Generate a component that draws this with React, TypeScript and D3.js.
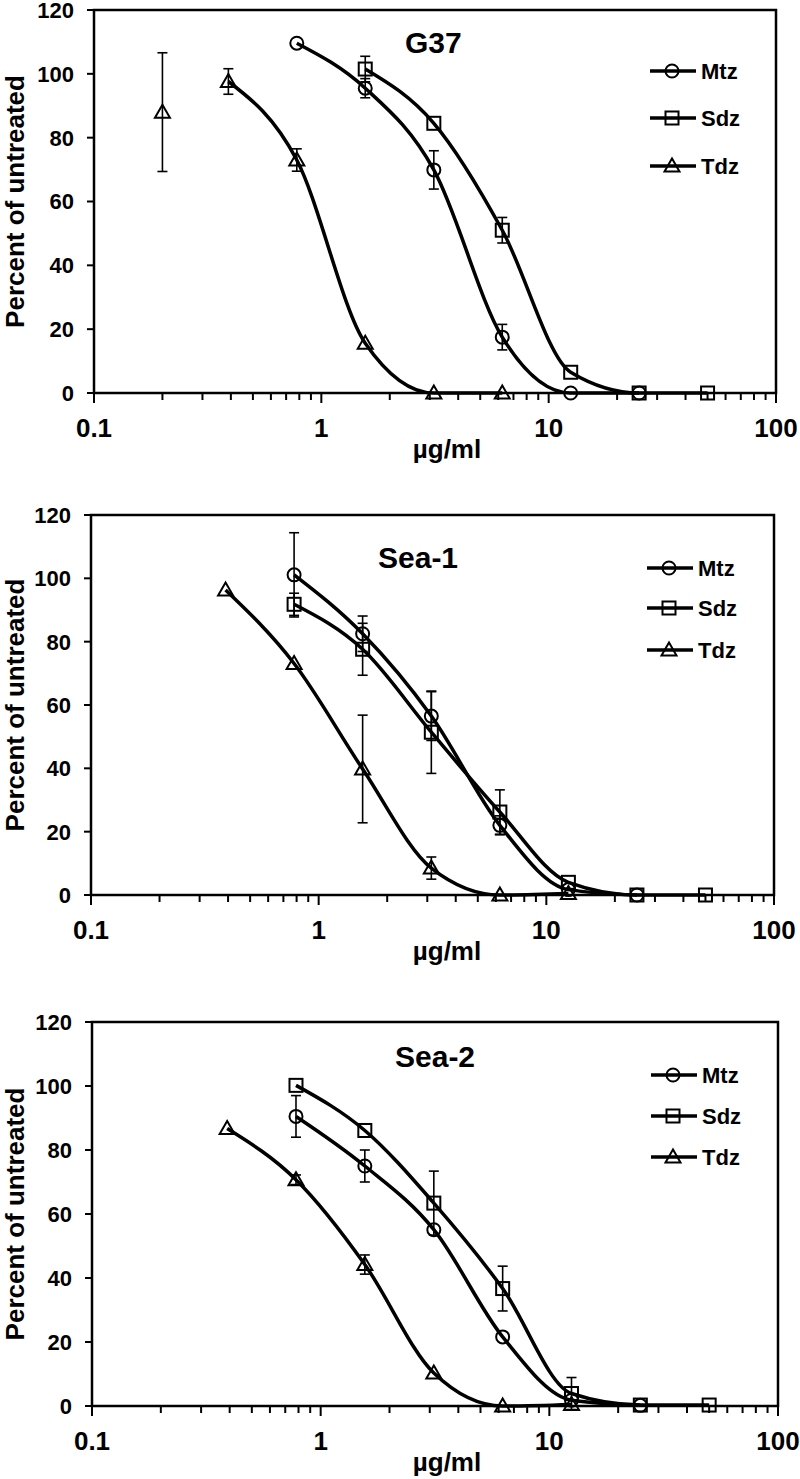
import React from 'react';
import * as d3 from 'd3';

// doses tested (µg/ml)
const doses = [0.2, 0.39, 0.78, 1.56, 3.125, 6.25, 12.5, 25, 50];
const drugs = ['Mtz', 'Sdz', 'Tdz'];
const xTickValues = [0.1, 1, 10, 100];
const xTickLabels = ['0.1', '1', '10', '100'];
const yTickValues = [0, 20, 40, 60, 80, 100, 120];
const panelTitles = ['G37', 'Sea-1', 'Sea-2'];

// G37
const g37Mtz = [null, null, 109.6, 95.5, 69.9, 17.5, 0, 0, null];
const g37MtzErr = [0, 0, 0, 3, 6, 4, 0, 0, 0];
const g37Sdz = [null, null, null, 101.5, 84.5, 51, 6.5, 0, 0];
const g37SdzErr = [0, 0, 0, 4, 0, 4, 0, 0, 0];
const g37Tdz = [88, 97.6, 73, 15.6, 0, 0, null, null, null];
const g37TdzErr = [18.6, 4, 3.5, 0, 0, 0, 0, 0, 0];
const g37CurveFrom = [0.78, 1.56, 0.39];

// Sea-1
const sea1Mtz = [null, null, 101.1, 82.5, 56.5, 22, 1.7, 0, null];
const sea1MtzErr = [0, 0, 13.3, 5.6, 7.7, 3, 0, 0, 0];
const sea1Sdz = [null, null, 91.8, 77.6, 51.4, 26.2, 4, 0, 0];
const sea1SdzErr = [0, 0, 3.5, 8.2, 13, 7, 0, 0, 0];
const sea1Tdz = [null, 96.3, 73.1, 39.8, 8.5, 0, 0.5, null, null];
const sea1TdzErr = [0, 0, 0, 17, 3.5, 0, 0, 0, 0];
const sea1CurveFrom = [0.78, 0.78, 0.39];

// Sea-2
const sea2Mtz = [null, null, 90.5, 75, 55.1, 21.6, 1.8, 0.2, null];
const sea2MtzErr = [0, 0, 6.5, 5, 0, 0, 0, 0, 0];
const sea2Sdz = [null, null, 100.2, 86.1, 63.4, 36.7, 3.9, 0.3, 0.3];
const sea2SdzErr = [0, 0, 0, 0, 10, 7, 5, 0, 0];
const sea2Tdz = [null, 86.7, 70.7, 44.2, 10.3, 0, 0.5, null, null];
const sea2TdzErr = [0, 0, 1.5, 3, 0, 0, 0, 0, 0];
const sea2CurveFrom = [0.78, 0.78, 0.39];

const panelValues = [
  [g37Mtz, g37Sdz, g37Tdz],
  [sea1Mtz, sea1Sdz, sea1Tdz],
  [sea2Mtz, sea2Sdz, sea2Tdz],
];
const panelErrors = [
  [g37MtzErr, g37SdzErr, g37TdzErr],
  [sea1MtzErr, sea1SdzErr, sea1TdzErr],
  [sea2MtzErr, sea2SdzErr, sea2TdzErr],
];
const panelCurveFrom = [g37CurveFrom, sea1CurveFrom, sea2CurveFrom];

// page layout of each panel (pixels)
const layouts = [
  { left: 94, right: 776, top: 10, bottom: 393, titleX: 405, titleY: 53, legX: 650, legRows: [71, 118, 166] },
  { left: 91, right: 774, top: 515, bottom: 895, titleX: 378, titleY: 568, legX: 647, legRows: [568, 608, 650] },
  { left: 92, right: 778, top: 1022, bottom: 1406, titleX: 395, titleY: 1067, legX: 651, legRows: [1075, 1116, 1157] },
];

const FONT = '"Liberation Sans", Arial, Helvetica, sans-serif';
const INK = '#000';

const Marker: React.FC<{ kind: number; x: number; y: number }> = ({ kind, x, y }) => {
  const common = { fill: 'none', stroke: INK, strokeWidth: 2 };
  if (kind === 0) return <circle cx={x} cy={y} r={6.5} {...common} />;
  if (kind === 1) return <rect x={x - 6.5} y={y - 6.5} width={13} height={13} {...common} />;
  const tri = d3.path();
  tri.moveTo(x, y - 7.5);
  tri.lineTo(x + 7.5, y + 5.5);
  tri.lineTo(x - 7.5, y + 5.5);
  tri.closePath();
  return <path d={tri.toString()} {...common} strokeLinejoin="miter" />;
};

const Panel: React.FC<{ idx: number }> = ({ idx }) => {
  const L = layouts[idx];
  const x = d3.scaleLog().domain([0.1, 100]).range([L.left, L.right]);
  const y = d3.scaleLinear().domain([0, 120]).range([L.bottom, L.top]);

  const minorTicks: number[] = [];
  [0.1, 1, 10].forEach((dec) => {
    for (let k = 2; k <= 9; k++) minorTicks.push(dec * k);
  });

  const line = d3
    .line<[number, number]>()
    .x((d) => x(d[0]))
    .y((d) => y(d[1]))
    .curve(d3.curveMonotoneX);

  const series = drugs.map((name, s) => {
    const vals = panelValues[idx][s];
    const errs = panelErrors[idx][s];
    const pts = doses
      .map((dose, i) => ({ dose, v: vals[i], e: errs[i] }))
      .filter((p) => p.v !== null) as { dose: number; v: number; e: number }[];
    const curvePts = pts
      .filter((p) => p.dose >= panelCurveFrom[idx][s])
      .map((p) => [p.dose, p.v] as [number, number]);
    return { name, pts, curvePts };
  });

  const midY = (L.top + L.bottom) / 2;

  return (
    <g>
      {/* plot frame */}
      <rect
        x={L.left}
        y={L.top}
        width={L.right - L.left}
        height={L.bottom - L.top}
        fill="none"
        stroke={INK}
        strokeWidth={2.5}
      />

      {/* y axis ticks and labels */}
      {yTickValues.map((t) => (
        <g key={'y' + t}>
          <line x1={L.left - 7} x2={L.left} y1={y(t)} y2={y(t)} stroke={INK} strokeWidth={2} />
          <text
            x={L.left - 20}
            y={y(t)}
            dy="0.36em"
            textAnchor="end"
            fontFamily={FONT}
            fontWeight="bold"
            fontSize={22}
          >
            {t}
          </text>
        </g>
      ))}

      {/* x axis ticks */}
      {minorTicks.map((t) => (
        <line key={'m' + t} x1={x(t)} x2={x(t)} y1={L.bottom} y2={L.bottom + 7} stroke={INK} strokeWidth={2} />
      ))}
      {xTickValues.map((t, i) => (
        <g key={'x' + t}>
          <line x1={x(t)} x2={x(t)} y1={L.bottom} y2={L.bottom + 10} stroke={INK} strokeWidth={2} />
          <text
            x={x(t)}
            y={L.bottom + 44}
            textAnchor="middle"
            fontFamily={FONT}
            fontWeight="bold"
            fontSize={26}
          >
            {xTickLabels[i]}
          </text>
        </g>
      ))}

      {/* axis titles */}
      <text x={447} y={L.bottom + 65} textAnchor="middle" fontFamily={FONT} fontWeight="bold" fontSize={26}>
        µg/ml
      </text>
      <text
        transform={`translate(24,${midY}) rotate(-90)`}
        textAnchor="middle"
        fontFamily={FONT}
        fontWeight="bold"
        fontSize={26}
      >
        Percent of untreated
      </text>

      {/* panel title */}
      <text x={L.titleX} y={L.titleY} fontFamily={FONT} fontWeight="bold" fontSize={30}>
        {panelTitles[idx]}
      </text>

      {/* error bars */}
      {series.map((s) =>
        s.pts
          .filter((p) => p.e > 0)
          .map((p) => (
            <g key={s.name + 'e' + p.dose} stroke={INK} strokeWidth={1.6}>
              <line x1={x(p.dose)} x2={x(p.dose)} y1={y(p.v - p.e)} y2={y(p.v + p.e)} />
              <line x1={x(p.dose) - 5} x2={x(p.dose) + 5} y1={y(p.v + p.e)} y2={y(p.v + p.e)} />
              <line x1={x(p.dose) - 5} x2={x(p.dose) + 5} y1={y(p.v - p.e)} y2={y(p.v - p.e)} />
            </g>
          ))
      )}

      {/* fitted curves */}
      {series.map((s) => (
        <path key={s.name + 'c'} d={line(s.curvePts) || ''} fill="none" stroke={INK} strokeWidth={3.5} />
      ))}

      {/* markers */}
      {series.map((s, k) =>
        s.pts.map((p) => <Marker key={s.name + 'p' + p.dose} kind={k} x={x(p.dose)} y={y(p.v)} />)
      )}

      {/* legend */}
      {drugs.map((name, k) => (
        <g key={'leg' + name}>
          <line
            x1={L.legX}
            x2={L.legX + 46}
            y1={L.legRows[k]}
            y2={L.legRows[k]}
            stroke={INK}
            strokeWidth={3.5}
          />
          <Marker kind={k} x={L.legX + 22} y={L.legRows[k]} />
          <text
            x={L.legX + 51}
            y={L.legRows[k]}
            dy="0.36em"
            fontFamily={FONT}
            fontWeight="bold"
            fontSize={22}
          >
            {name}
          </text>
        </g>
      ))}
    </g>
  );
}

export default function App() {
  return (
    <div style={{ position: 'absolute', left: 0, top: 0 }}>
      <svg width={800} height={1479} viewBox="0 0 800 1479" style={{ display: 'block', background: '#fff' }}>
        {layouts.map((_, i) => (
          <Panel key={i} idx={i} />
        ))}
      </svg>
    </div>
  );
}
